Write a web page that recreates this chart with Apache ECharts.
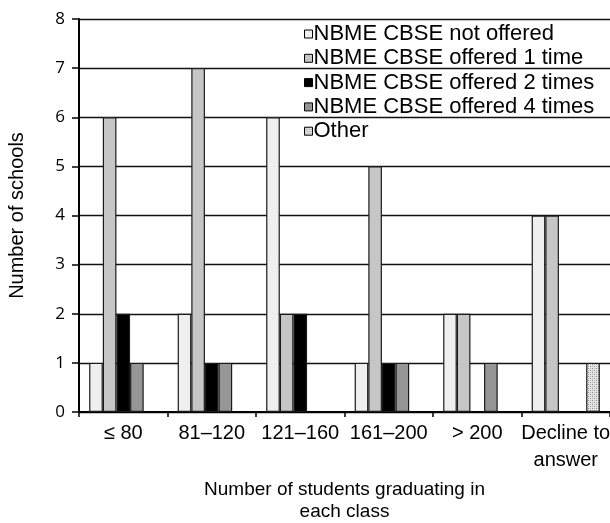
<!DOCTYPE html>
<html>
<head>
<meta charset="utf-8">
<script src="https://cdn.jsdelivr.net/npm/echarts@6/dist/echarts.min.js"></script>
<style>html,body{margin:0;padding:0;background:#fff}#c{width:610px;height:523px}</style>
</head>
<body>
<div id="c"></div>
<script>
var categories = ['≤ 80', '81–120', '121–160', '161–200', '> 200', 'Decline to\nanswer'];
var seriesNames = ['NBME CBSE not offered', 'NBME CBSE offered 1 time', 'NBME CBSE offered 2 times', 'NBME CBSE offered 4 times', 'Other'];
var notOffered = [1, 2, 6, 1, 2, 4];
var offered1 = [6, 7, 2, 5, 2, 4];
var offered2 = [2, 1, 2, 1, 0, 0];
var offered4 = [1, 1, 0, 1, 1, 0];
var other = [0, 0, 0, 0, 0, 1];
var yTicks = [0, 1, 2, 3, 4, 5, 6, 7, 8];

function makePattern() {
  var c = document.createElement('canvas');
  c.width = 4; c.height = 4;
  var g = c.getContext('2d');
  g.fillStyle = '#e6e6e6'; g.fillRect(0, 0, 4, 4);
  g.fillStyle = '#8a8a8a';
  g.fillRect(0, 0, 1, 1); g.fillRect(2, 2, 1, 1);
  g.fillStyle = '#b0b0b0';
  g.fillRect(2, 0, 1, 1); g.fillRect(0, 2, 1, 1);
  return c;
}
var colors = ['#efefef', '#c6c6c6', '#000000', '#969696', {image: makePattern(), repeat: 'repeat'}];
var allData = [notOffered, offered1, offered2, offered4, other];
var FONT = '"Liberation Sans", Arial, sans-serif';

var chart = echarts.init(document.getElementById('c'), null, {renderer: 'canvas'});
chart.setOption({
  animation: false,
  backgroundColor: '#fff',
  grid: {left: 79, right: 0, top: 19, bottom: 111, containLabel: false, outerBoundsMode: 'none'},
  legend: {
    orient: 'vertical', left: 304, top: 23, padding: 0,
    itemWidth: 8, itemHeight: 8, itemGap: 2.3,
    icon: 'rect',
    itemStyle: {borderColor: '#000', borderWidth: 1},
    textStyle: {fontFamily: FONT, fontSize: 22, color: '#000', padding: [0, 0, 0, -4]},
    data: seriesNames
  },
  xAxis: {
    type: 'category', data: categories,
    axisLine: {lineStyle: {color: '#000', width: 2}},
    axisTick: {show: true, length: 5, lineStyle: {color: '#000', width: 1.5}},
    axisLabel: {fontFamily: FONT, fontSize: 20, color: '#000', margin: 8, lineHeight: 27, interval: 0},
    name: 'Number of students graduating in\neach class',
    nameLocation: 'middle', nameGap: 66,
    nameTextStyle: {fontFamily: FONT, fontSize: 19, color: '#000', lineHeight: 22}
  },
  yAxis: {
    type: 'value', min: yTicks[0], max: yTicks[yTicks.length - 1], interval: 1,
    axisLine: {show: true, lineStyle: {color: '#000', width: 2}},
    axisTick: {show: true, length: 7, lineStyle: {color: '#000', width: 1.5}},
    axisLabel: {fontFamily: '"Open Sans", sans-serif', fontSize: 17, color: '#000', margin: 14},
    splitLine: {lineStyle: {color: '#111', width: 1.3}},
    name: 'Number of schools', nameLocation: 'middle', nameGap: 52,
    nameTextStyle: {fontFamily: FONT, fontSize: 20, color: '#000'}
  },
  series: allData.map(function (d, i) {
    return {
      name: seriesNames[i], type: 'bar',
      barGap: '0%', barCategoryGap: '23%',
      data: d.map(function (v) { return v === 0 ? '-' : v; }),
      itemStyle: {color: colors[i], borderColor: '#1a1a1a', borderWidth: 1.2}
    };
  })
});
</script>
</body>
</html>
